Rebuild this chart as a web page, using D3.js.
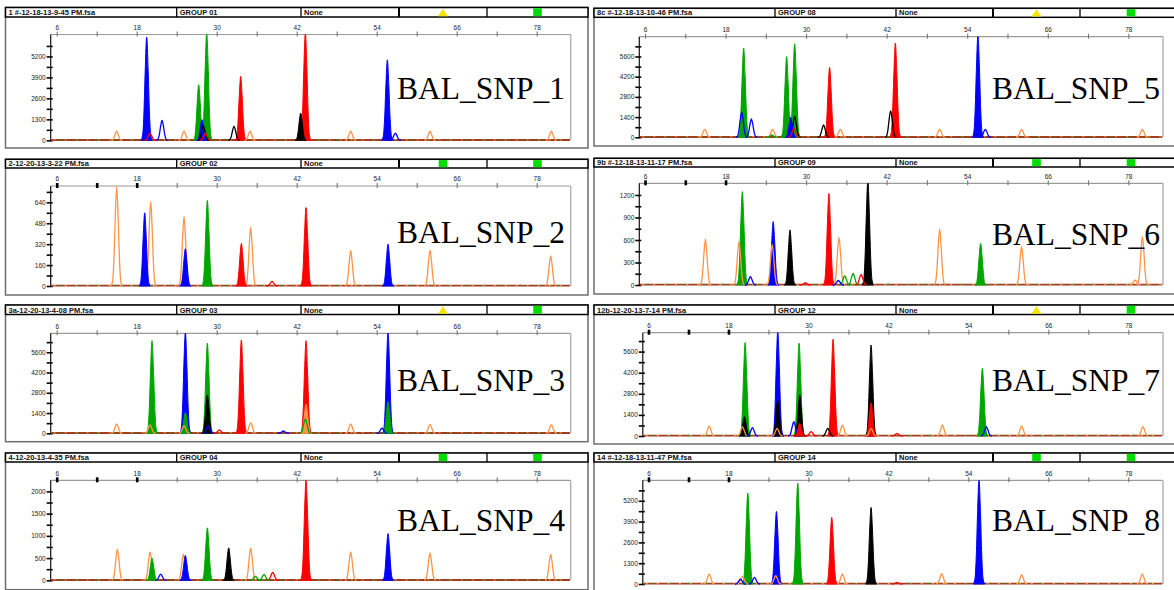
<!DOCTYPE html>
<html>
<head>
<meta charset="utf-8">
<script src="https://cdn.jsdelivr.net/npm/d3@7"></script>
<style>
  body { margin: 0; background: #fff; }
  svg { display: block; }
</style>
</head>
<body>
<svg id="chart" width="1174" height="590"></svg>
<script>
// Sample labels and run headers (left column top->bottom, then right column)
const sampleNames = ["BAL_SNP_1", "BAL_SNP_2", "BAL_SNP_3", "BAL_SNP_4",
                     "BAL_SNP_5", "BAL_SNP_6", "BAL_SNP_7", "BAL_SNP_8"];
const fileNames = ["1 #-12-18-13-9-45 PM.fsa", "2-12-20-13-3-22 PM.fsa", "3a-12-20-13-4-08 PM.fsa", "4-12-20-13-4-35 PM.fsa",
                   "8c #-12-18-13-10-46 PM.fsa", "9b #-12-18-13-11-17 PM.fsa", "12b-12-20-13-7-14 PM.fsa", "14 #-12-18-13-11-47 PM.fsa"];
const groupNames = ["GROUP 01", "GROUP 02", "GROUP 03", "GROUP 04", "GROUP 08", "GROUP 09", "GROUP 12", "GROUP 14"];
const panelNotes = ["None", "None", "None", "None", "None", "None", "None", "None"];
const qualityFlags = ["yellow", "green", "yellow", "green", "yellow", "green", "yellow", "green"];

// Axes: size (bp) ticks along top, RFU ticks on the left
const xTicks = [6, 12, 18, 24, 30, 36, 42, 48, 54, 60, 66, 72, 78];
const xTickLabels = [6, 18, 30, 42, 54, 66, 78];
const yMax = [6560, 765, 6910, 2250, 6970, 1356, 6855, 6480];
const yLabelStep = [1300, 160, 1400, 500, 1400, 300, 1400, 1300];

// Peaks: [size, height (RFU), dye, filled]
// dyes: B blue, G green, R red, K black, O orange (size standard)
const peaks1 = [[15.0,560,"O",0],[19.5,6400,"B",1],[20.0,450,"R",0],[21.8,1240,"B",0],[25.1,560,"O",0],
  [27.3,3450,"G",1],[28.5,6700,"G",1],[27.8,1280,"B",1],[28.0,900,"K",0],[28.3,450,"R",0],[32.6,870,"K",0],
  [33.6,3960,"R",1],[35.0,560,"O",0],[42.6,1690,"K",1],[43.3,6700,"R",1],[50.1,560,"O",0],[55.6,4990,"B",1],
  [56.8,450,"B",0],[62.0,560,"O",0],[80.2,560,"O",0]];
const peaks2 = [[15.0,760,"O",0],[19.2,560,"B",1],[20.1,645,"O",0],[25.1,530,"O",0],[25.3,285,"B",1],
  [28.6,655,"G",1],[33.7,325,"R",1],[35.1,450,"O",0],[38.3,35,"R",0],[43.4,600,"R",1],[50.1,270,"O",0],
  [55.7,320,"B",1],[62.0,275,"O",0],[80.1,230,"O",0]];
const peaks3 = [[15.0,645,"O",0],[20.3,6400,"G",1],[20.0,580,"O",0],[25.3,7000,"B",1],[25.3,1430,"G",1],
  [25.1,530,"O",0],[28.6,6220,"G",1],[28.6,2650,"K",1],[28.7,510,"B",0],[30.4,230,"R",0],[33.7,6450,"R",1],
  [35.1,740,"O",0],[40.0,160,"B",0],[43.4,6400,"R",1],[43.4,2000,"O",1],[43.3,1000,"G",0],[50.1,645,"O",0],
  [55.7,7000,"B",1],[55.7,2190,"G",1],[54.8,350,"B",0],[62.0,620,"O",0],[80.2,580,"O",0]];
const peaks4 = [[15.1,700,"O",0],[20.0,640,"O",0],[20.3,500,"G",1],[21.6,140,"B",0],[25.0,590,"O",0],
  [25.3,560,"B",1],[28.6,1180,"G",1],[31.8,730,"K",1],[35.1,730,"O",0],[35.8,90,"G",0],[37.1,130,"G",0],
  [38.4,180,"R",0],[43.4,2260,"R",1],[50.1,640,"O",0],[55.7,1050,"B",1],[62.0,615,"O",0],[80.1,580,"O",0]];
const peaks5 = [[14.9,555,"O",0],[20.4,1740,"B",0],[20.7,6180,"G",1],[21.85,1270,"B",0],[24.9,160,"G",0],
  [25.0,555,"O",0],[27.1,5600,"G",1],[27.7,1390,"B",1],[28.3,6480,"G",1],[28.3,1440,"K",0],[28.2,620,"R",0],
  [32.6,860,"K",0],[33.5,4840,"R",1],[35.1,555,"O",0],[42.6,1850,"K",0],[43.3,6530,"R",1],[49.9,555,"O",0],
  [55.6,7100,"B",1],[56.7,555,"B",0],[62.1,555,"O",0],[80.1,555,"O",0]];
const peaks6 = [[15.0,610,"O",0],[20.0,580,"O",0],[20.5,1245,"G",1],[21.7,110,"B",0],[24.95,540,"O",0],
  [25.1,845,"B",1],[27.6,735,"K",1],[29.9,30,"R",0],[33.4,1220,"R",1],[34.8,60,"B",0],[34.9,635,"O",0],
  [35.75,120,"G",0],[37.0,155,"G",0],[38.2,140,"R",0],[39.2,1400,"K",1],[49.9,745,"O",0],[56.0,555,"G",1],
  [62.1,510,"O",0],[79.0,65,"O",0],[80.1,645,"O",0]];
const peaks7 = [[15.1,665,"O",0],[20.1,620,"O",0],[20.5,6200,"G",1],[20.4,1280,"K",1],[21.6,550,"B",0],
  [25.4,7000,"B",1],[25.4,2390,"K",1],[25.3,510,"O",0],[27.8,950,"B",0],[28.6,6150,"G",1],[28.7,2720,"K",1],
  [28.7,840,"R",1],[30.4,290,"R",0],[32.9,510,"K",0],[33.7,6420,"R",1],[35.1,730,"O",0],[39.4,6040,"K",1],
  [39.4,2210,"R",1],[39.4,500,"O",0],[43.3,180,"R",0],[50.1,730,"O",0],[56.1,4490,"G",1],[56.7,620,"B",0],
  [62.0,665,"O",0],[80.2,620,"O",0]];
const peaks8 = [[15.1,625,"O",0],[19.8,300,"B",0],[20.1,480,"O",0],[20.9,5680,"G",1],[21.9,415,"B",0],
  [25.1,520,"O",0],[25.2,4530,"B",1],[28.4,6300,"G",1],[33.5,4160,"R",1],[35.1,625,"O",0],[39.4,4780,"K",1],
  [43.3,100,"R",0],[50.0,645,"O",0],[55.6,6500,"B",1],[62.0,580,"O",0],[80.1,625,"O",0]];
const allPeaks = [peaks1, peaks2, peaks3, peaks4, peaks5, peaks6, peaks7, peaks8];

// ---- layout / style ----
const dyeColor = { B: "#0000ff", G: "#00a600", R: "#ff0000", K: "#000000", O: "#ff9446" };
const columns = {
  L: { x0: 5.5, x1: 588, cells: [176.7, 301, 399, 487], x6: 56.7, x78: 536.7, plotL: 50.7, plotR: 570.7, labelX: 565 },
  R: { x0: 594, x1: 1182, cells: [775, 896, 993, 1080], x6: 645, x78: 1128.3, plotL: 639.3, plotR: 1163, labelX: 1160 }
};
const layout = [
  { col: "L", top: 7.5,   hb: 17,    pt: 34.5,  zero: 140.3, bottom: 148,   textY: 99.3,  boldTicks: 0 },
  { col: "L", top: 159.3, hb: 168,   pt: 186,   zero: 286,   bottom: 295,   textY: 242.7, boldTicks: 3 },
  { col: "L", top: 305,   hb: 314.5, pt: 333.3, zero: 433.3, bottom: 441.7, textY: 390.7, boldTicks: 0 },
  { col: "L", top: 453,   hb: 462,   pt: 480.3, zero: 580.3, bottom: 589.7, textY: 531.3, boldTicks: 3 },
  { col: "R", top: 8.3,   hb: 17.3,  pt: 36.7,  zero: 137.3, bottom: 146,   textY: 99.3,  boldTicks: 0 },
  { col: "R", top: 158.3, hb: 167,   pt: 183.3, zero: 285,   bottom: 294,   textY: 245,   boldTicks: 3 },
  { col: "R", top: 305,   hb: 314.5, pt: 332.7, zero: 436,   bottom: 444,   textY: 390.7, boldTicks: 3, shift: 3.5 },
  { col: "R", top: 453,   hb: 462,   pt: 480.3, zero: 584,   bottom: 596,   textY: 530.7, boldTicks: 3, shift: 3.5 }
];
// normalised peak outline (offset in half-widths, fraction of height)
const peakShape = [[-1,0],[-0.72,0.05],[-0.48,0.28],[-0.26,0.68],[0,1],[0.26,0.68],[0.48,0.28],[0.72,0.05],[1,0]];
const halfWidth = 0.85;

const svg = d3.select("#chart");
svg.append("rect").attr("width", 1174).attr("height", 590).attr("fill", "#fff");
const defs = svg.append("defs");

function drawPanel(i) {
  const L = layout[i], C = columns[L.col];
  const shift = L.shift || 0;
  const plotL = C.plotL + shift, plotR = C.plotR;
  const g = svg.append("g");

  // outer frame
  g.append("rect")
    .attr("x", C.x0).attr("y", L.top)
    .attr("width", C.x1 - C.x0).attr("height", L.bottom - L.top)
    .attr("fill", "#fff").attr("stroke", "#6e6e6e").attr("stroke-width", 1.5);

  // header bar
  g.append("rect")
    .attr("x", C.x0).attr("y", L.top)
    .attr("width", C.x1 - C.x0).attr("height", L.hb - L.top)
    .attr("fill", "#fff").attr("stroke", "#000").attr("stroke-width", 1.5);
  C.cells.forEach((cx, k) => {
    g.append("line").attr("x1", cx).attr("x2", cx).attr("y1", L.top).attr("y2", L.hb)
      .attr("stroke", "#000").attr("stroke-width", k === 2 ? 2 : 1.3);
  });
  const headerTexts = [[C.x0 + 3, fileNames[i]], [C.cells[0] + 3, groupNames[i]], [C.cells[1] + 3, panelNotes[i]]];
  headerTexts.forEach(([tx, t]) => {
    g.append("text").attr("x", tx).attr("y", L.hb - 2)
      .attr("font-family", "Liberation Sans, Arial, sans-serif").attr("font-size", 7.5)
      .attr("font-weight", "bold").attr("fill", "#111").text(t);
  });
  const mid1 = (C.cells[2] + C.cells[3]) / 2, mid2 = (C.cells[3] + C.x1) / 2;
  const hh = L.hb - L.top;
  if (qualityFlags[i] === "yellow") {
    g.append("path")
      .attr("d", `M${mid1 - 5},${L.hb - 0.8} L${mid1 + 5},${L.hb - 0.8} L${mid1},${L.top + 1.2} Z`)
      .attr("fill", "#f5e400");
  } else {
    g.append("rect").attr("x", mid1 - 4.3).attr("y", L.top + 0.8).attr("width", 8.6).attr("height", hh - 1.6)
      .attr("fill", "#00dd00");
  }
  g.append("rect").attr("x", mid2 - 4.3).attr("y", L.top + 0.8).attr("width", 8.6).attr("height", hh - 1.6)
    .attr("fill", "#00dd00");

  // scales
  const x = d3.scaleLinear().domain([6, 78]).range([C.x6 + shift, C.x78]);
  const y = d3.scaleLinear().domain([0, yMax[i]]).range([L.zero, L.pt]);

  // plot frame (top & right grey)
  g.append("line").attr("x1", plotL).attr("x2", plotR).attr("y1", L.pt).attr("y2", L.pt)
    .attr("stroke", "#9a9a9a").attr("stroke-width", 1.2);
  g.append("line").attr("x1", plotR).attr("x2", plotR).attr("y1", L.pt).attr("y2", L.zero)
    .attr("stroke", "#b5b5b5").attr("stroke-width", 1.5);

  // top size axis
  const xAxis = g.append("g")
    .attr("transform", `translate(0,${L.pt + 2})`)
    .call(d3.axisTop(x).tickValues(xTicks).tickSizeInner(5).tickSizeOuter(0).tickPadding(1.8)
      .tickFormat(d => xTickLabels.includes(d) ? d : ""));
  xAxis.select(".domain").remove();
  xAxis.selectAll(".tick line")
    .attr("stroke", (d, k) => k < L.boldTicks ? "#000" : "#777")
    .attr("stroke-width", (d, k) => k < L.boldTicks ? 2.6 : 1.1);
  xAxis.selectAll(".tick text")
    .attr("font-family", "Liberation Sans, Arial, sans-serif").attr("font-size", 6.5).attr("fill", "#222");

  // left RFU axis
  const step = yLabelStep[i];
  const yAxis = g.append("g")
    .attr("transform", `translate(${plotL + 2},0)`)
    .call(d3.axisLeft(y).tickValues(d3.range(0, yMax[i] * 0.96, step / 2)).tickSizeInner(6).tickSizeOuter(0)
      .tickPadding(1).tickFormat(d => d % step === 0 ? d : ""));
  yAxis.select(".domain").remove();
  yAxis.selectAll(".tick line").attr("stroke", "#000").attr("stroke-width", 1.6);
  yAxis.selectAll(".tick text")
    .attr("font-family", "Liberation Sans, Arial, sans-serif").attr("font-size", 6.5).attr("fill", "#222");
  g.append("line").attr("x1", plotL).attr("x2", plotL).attr("y1", L.pt).attr("y2", L.zero)
    .attr("stroke", "#111").attr("stroke-width", 1.2);

  // clip for traces
  const clipId = "clip" + i;
  defs.append("clipPath").attr("id", clipId).append("rect")
    .attr("x", plotL + 0.6).attr("y", L.pt).attr("width", plotR - plotL - 1.4).attr("height", L.zero - L.pt + 2);
  const traces = g.append("g").attr("clip-path", `url(#${clipId})`);

  // baseline
  traces.append("line").attr("x1", plotL).attr("x2", plotR).attr("y1", y(0) - 0.3).attr("y2", y(0) - 0.3)
    .attr("stroke", "#9c3f22").attr("stroke-width", 1.8);
  traces.append("line").attr("x1", plotL + 3).attr("x2", plotR).attr("y1", y(0) - 0.5).attr("y2", y(0) - 0.5)
    .attr("stroke", "#ff9446").attr("stroke-width", 1).attr("stroke-dasharray", "2,9");
  traces.append("line").attr("x1", plotL + 8).attr("x2", plotR).attr("y1", y(0) - 0.6).attr("y2", y(0) - 0.6)
    .attr("stroke", "#00a600").attr("stroke-width", 1).attr("stroke-dasharray", "1.5,17");

  const area = d3.area().x(d => x(d[0])).y0(y(0)).y1(d => y(d[1])).curve(d3.curveMonotoneX);
  const line = d3.line().x(d => x(d[0])).y(d => y(d[1])).curve(d3.curveMonotoneX);
  const peaks = allPeaks[i].map(p => ({ size: p[0], height: p[1], dye: p[2], filled: p[3] === 1 }))
    .sort((a, b) => b.height - a.height);
  const shapeOf = p => peakShape.map(([dx, f]) => [p.size + dx * halfWidth, f * p.height]);

  traces.selectAll("path.peak")
    .data(peaks)
    .join("path")
    .attr("class", "peak")
    .attr("d", p => p.filled ? area(shapeOf(p)) : line(shapeOf(p)))
    .attr("fill", p => p.filled ? dyeColor[p.dye] : "none")
    .attr("stroke", p => dyeColor[p.dye])
    .attr("stroke-width", p => p.filled ? 1 : 1.3);

  // sample label
  g.append("text")
    .attr("x", C.labelX).attr("y", L.textY)
    .attr("text-anchor", "end")
    .attr("font-family", "Liberation Serif, Times New Roman, serif")
    .attr("font-size", 31.5)
    .attr("fill", "#000")
    .text(sampleNames[i]);
}

sampleNames.forEach((_, i) => drawPanel(i));
</script>
</body>
</html>
